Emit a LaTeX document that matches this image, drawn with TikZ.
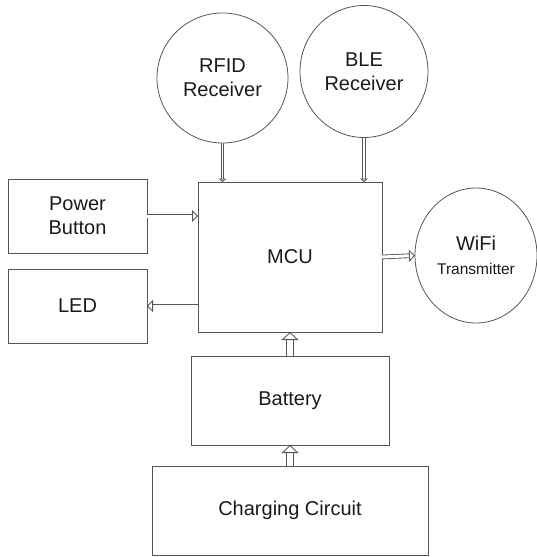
\documentclass[tikz,border=0pt]{standalone}
\usepackage{fontspec}
\setmainfont{Liberation Sans}
\usetikzlibrary{shapes.geometric,arrows.meta,positioning}
\definecolor{cLine}{HTML}{555555}
\definecolor{cText}{HTML}{1A1A1A}
\tikzset{
  blk/.style  = {rectangle, draw=cLine, line width=0.8pt, inner sep=0pt, outer sep=0pt,
                 align=center, text=cText, font=\fontsize{20}{24}\selectfont},
  rnd/.style  = {blk, ellipse},
  pipe/.style = {draw=cLine, line width=0.85pt, double=white, double distance=#1},
  slim/.style = {pipe=1.8pt, -{Triangle[open, length=3.5pt, width=8pt, line width=0.85pt]}},
  mid/.style  = {pipe=3pt, -{Triangle[open, length=6pt, width=12pt, line width=0.85pt]}},
  fat/.style  = {pipe=5.5pt, -{Triangle[open, length=8pt, width=17pt, line width=0.85pt]}},
}
\begin{document}
\begin{tikzpicture}[x=1pt, y=-1pt]
  \useasboundingbox (0,0) rectangle (537,557);
  \node[blk, minimum width=184pt, minimum height=150pt] (mcu) at (290,257) {MCU};
  \node[rnd, minimum width=131pt, minimum height=130pt] (rfid) at (222.5,78) {RFID\\Receiver};
  \node[rnd, minimum width=128pt, minimum height=132pt] (ble) at (364,71.5) {BLE\\Receiver};
  \node[blk, minimum width=139pt, minimum height=74pt] (pwr) at (77.5,216) {Power\\Button};
  \node[blk, minimum width=139pt, minimum height=74pt] (led) at (77.5,306) {LED};
  \node[rnd, minimum width=122pt, minimum height=135pt] (wifi) at (476,255.5)
       {WiFi\\{\fontsize{15.5}{17}\selectfont Transmitter}};
  \node[blk, minimum width=198pt, minimum height=89pt, below=24pt of mcu] (bat) {Battery};
  \node[blk, minimum width=276pt, minimum height=89pt, below=21pt of bat] (chg) {Charging Circuit};

  \draw[slim] (rfid.south) -- (rfid.south |- mcu.north);
  \draw[slim] (ble.south) -- (ble.south |- mcu.north);
  \draw[mid] (pwr.east) -- (pwr.east -| mcu.west);
  \draw[mid] (led.east -| mcu.west) -- (led.east);
  \draw[mid] (mcu.east) -- (wifi.west);
  \draw[fat] (bat.north) -- (mcu.south);
  \draw[fat] (chg.north) -- (bat.south);
\end{tikzpicture}
\end{document}
